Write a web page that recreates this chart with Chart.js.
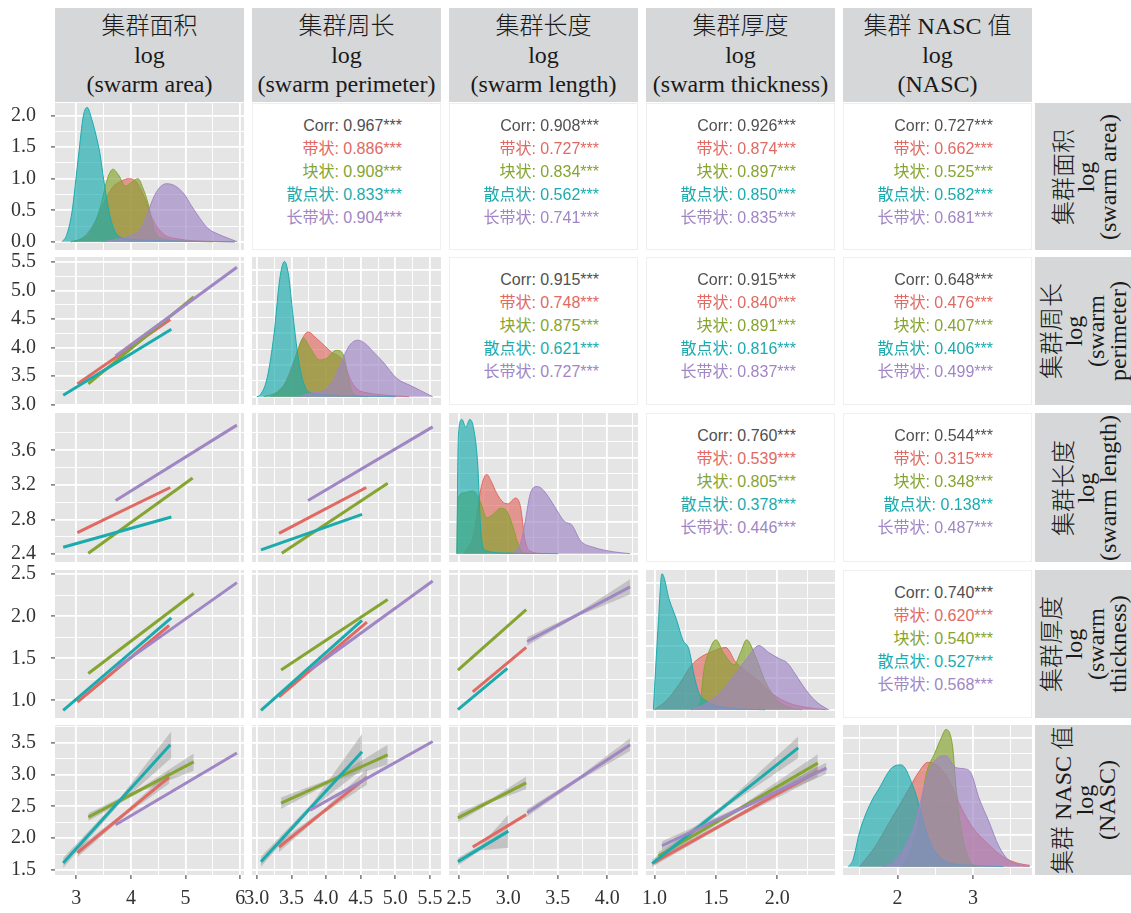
<!DOCTYPE html>
<html>
<head>
<meta charset="utf-8">
<title>swarm pairs</title>
<script src="https://cdn.jsdelivr.net/npm/chart.js@4.4.1/dist/chart.umd.min.js"></script>
<style>
  body { margin: 0; width: 1131px; height: 913px; overflow: hidden; position: relative; background: #fff; }
  canvas { position: absolute; }
  .strip { position: absolute; background: #D6D7D9; color: #1a1a1a; font-family: "Liberation Serif", "Noto Sans CJK SC", serif; font-weight: 300; font-size: 24px; line-height: 29px; text-align: center; display: flex; flex-direction: column; justify-content: center; }
  .rstrip { position: absolute; background: #D6D7D9; overflow: hidden; }
  .rstrip .rot { position: absolute; color: #1a1a1a; font-family: "Liberation Serif", "Noto Sans CJK SC", serif; font-weight: 300; font-size: 24px; line-height: 22px; text-align: center; display: flex; flex-direction: column; justify-content: center; transform: rotate(-90deg); white-space: nowrap; }
  .cor { position: absolute; background: #fff; border: 1px solid #efefef; box-sizing: border-box; font-family: "Liberation Sans", "Noto Sans CJK SC", sans-serif; font-size: 16px; }
  .cor div { position: absolute; right: 38px; line-height: 18px; white-space: nowrap; }
</style>
</head>
<body>
<script>
// ....... labels .............
const groups = ["带状", "块状", "散点状", "长带状"];
const colHeaders = [["集群面积", "log", "(swarm area)"], ["集群周长", "log", "(swarm perimeter)"], ["集群长度", "log", "(swarm length)"], ["集群厚度", "log", "(swarm thickness)"], ["集群 NASC 值", "log", "(NASC)"]];
const rowHeaders = [["集群面积", "log", "(swarm area)"], ["集群周长", "log", "(swarm", "perimeter)"], ["集群长度", "log", "(swarm length)"], ["集群厚度", "log", "(swarm", "thickness)"], ["集群 NASC 值", "log", "(NASC)"]];

// ....... axis ticks .............
const xMajor = [[3, 4, 5, 6], [3, 3.5, 4, 4.5, 5, 5.5], [2.5, 3, 3.5, 4], [1, 1.5, 2], [2, 3]];
const xMinor = [[3.5, 4.5, 5.5], [3.25, 3.75, 4.25, 4.75, 5.25], [2.75, 3.25, 3.75, 4.25], [1.25, 1.75, 2.25], [1.5, 2.5, 3.5]];
const xLabels = [["3", "4", "5", "6"], ["3.0", "3.5", "4.0", "4.5", "5.0", "5.5"], ["2.5", "3.0", "3.5", "4.0"], ["1.0", "1.5", "2.0"], ["2", "3"]];
const xRange = [[2.61, 6.07], [2.93, 5.66], [2.40, 4.31], [0.93, 2.47], [1.28, 3.78]];
const yMajor = [[0, 0.5, 1, 1.5, 2], [3, 3.5, 4, 4.5, 5, 5.5], [2.4, 2.8, 3.2, 3.6], [1, 1.5, 2, 2.5], [1.5, 2, 2.5, 3, 3.5]];
const yMinor = [[0.25, 0.75, 1.25, 1.75], [3.25, 3.75, 4.25, 4.75, 5.25], [2.6, 3.0, 3.4, 3.8], [1.25, 1.75, 2.25], [1.75, 2.25, 2.75, 3.25, 3.75]];
const yLabels = [["0.0", "0.5", "1.0", "1.5", "2.0"], ["3.0", "3.5", "4.0", "4.5", "5.0", "5.5"], ["2.4", "2.8", "3.2", "3.6"], ["1.0", "1.5", "2.0", "2.5"], ["1.5", "2.0", "2.5", "3.0", "3.5"]];
const yRange = [[-0.13, 2.2], [2.99, 5.59], [2.31, 4.03], [0.79, 2.55], [1.42, 3.78]];

// ....... densities (diagonal), order: 带状, 块状, 散点状, 长带状 .............
const densArea = [
  [[2.9,0],[3.1,0.05],[3.3,0.25],[3.5,0.6],[3.65,0.85],[3.8,0.95],[3.95,1.0],[4.1,0.95],[4.25,0.7],[4.4,0.35],[4.6,0.12],[4.9,0.04],[5.3,0.01],[5.9,0]],
  [[2.9,0],[3.1,0.05],[3.26,0.15],[3.44,0.55],[3.57,1.0],[3.67,1.15],[3.78,1.05],[3.9,0.88],[4.02,0.95],[4.13,1.0],[4.22,0.85],[4.31,0.62],[4.43,0.18],[4.6,0.05],[5.0,0.01],[5.5,0]],
  [[2.74,0],[2.82,0.1],[2.92,0.47],[3.04,1.36],[3.13,2.0],[3.2,2.13],[3.28,1.95],[3.39,1.58],[3.44,1.36],[3.5,0.99],[3.63,0.36],[3.76,0.1],[4.0,0.04],[4.5,0.02],[5.0,0.01],[5.9,0]],
  [[3.5,0],[3.8,0.05],[4.0,0.1],[4.19,0.22],[4.31,0.47],[4.43,0.73],[4.55,0.88],[4.65,0.92],[4.8,0.89],[4.98,0.75],[5.1,0.58],[5.2,0.45],[5.4,0.22],[5.6,0.12],[5.8,0.05],[5.95,0]]
];
const densPerim = [
  [[3.2,0],[3.4,0.2],[3.55,0.6],[3.65,0.9],[3.74,1.02],[3.85,0.93],[3.98,0.8],[4.08,0.7],[4.18,0.64],[4.26,0.55],[4.34,0.3],[4.45,0.12],[4.6,0.06],[4.8,0.03],[5.2,0]],
  [[3.1,0],[3.3,0.08],[3.48,0.33],[3.6,0.76],[3.67,0.92],[3.78,0.75],[3.9,0.58],[4.0,0.6],[4.15,0.73],[4.25,0.66],[4.32,0.3],[4.4,0.04],[4.6,0]],
  [[3.0,0],[3.05,0.03],[3.15,0.3],[3.25,1.0],[3.33,1.85],[3.4,2.13],[3.46,1.9],[3.52,1.3],[3.6,0.6],[3.68,0.2],[3.78,0.06],[4.0,0.03],[4.5,0.01],[5.0,0]],
  [[3.6,0],[3.8,0.06],[4.0,0.12],[4.1,0.25],[4.2,0.49],[4.34,0.81],[4.46,0.89],[4.56,0.84],[4.68,0.71],[4.82,0.55],[5.02,0.29],[5.21,0.18],[5.36,0.1],[5.54,0]]
];
const densLength = [
  [[2.55,0],[2.65,0.3],[2.72,1.0],[2.78,1.24],[2.83,1.12],[2.88,0.95],[2.95,0.8],[3.0,0.78],[3.07,0.87],[3.12,0.75],[3.17,0.2],[3.22,0.04],[3.35,0]],
  [[2.48,0],[2.49,0.85],[2.55,0.95],[2.64,0.98],[2.72,0.8],[2.78,0.56],[2.85,0.62],[2.92,0.71],[2.99,0.65],[3.05,0.4],[3.09,0.19],[3.14,0.03],[3.2,0]],
  [[2.48,0],[2.49,1.5],[2.5,1.95],[2.53,2.1],[2.57,1.98],[2.61,2.1],[2.65,1.95],[2.69,1.4],[2.72,0.4],[2.76,0.05],[3.0,0.01],[3.5,0]],
  [[3.05,0],[3.12,0.15],[3.17,0.5],[3.22,0.93],[3.29,1.05],[3.35,1.0],[3.45,0.78],[3.57,0.5],[3.64,0.45],[3.73,0.2],[3.86,0.1],[4.06,0.03],[4.23,0]]
];
const densThick = [
  [[1.0,0],[1.1,0.15],[1.2,0.4],[1.3,0.7],[1.37,0.82],[1.45,0.9],[1.58,0.98],[1.66,0.75],[1.75,0.6],[1.85,0.45],[1.96,0.25],[2.1,0.1],[2.3,0.02],[2.4,0]],
  [[1.3,0],[1.37,0.1],[1.4,0.6],[1.45,0.95],[1.5,1.1],[1.56,0.9],[1.65,0.71],[1.7,0.9],[1.75,1.1],[1.82,0.85],[1.9,0.45],[2.0,0.15],[2.1,0.03],[2.2,0]],
  [[0.99,0],[1.0,0.35],[1.03,1.35],[1.06,2.14],[1.12,1.73],[1.18,1.41],[1.23,1.1],[1.28,0.95],[1.32,0.56],[1.36,0.27],[1.42,0.14],[1.6,0.03],[1.9,0]],
  [[1.3,0],[1.42,0.1],[1.55,0.3],[1.65,0.55],[1.75,0.8],[1.85,1.01],[1.93,0.9],[2.02,0.8],[2.08,0.74],[2.15,0.55],[2.23,0.32],[2.31,0.14],[2.39,0.03],[2.42,0]]
];
const densNasc = [
  [[1.5,0],[1.7,0.3],[1.9,0.7],[2.1,1.1],[2.3,1.5],[2.4,1.62],[2.55,1.55],[2.7,1.3],[2.85,0.9],[3.0,0.6],[3.2,0.35],[3.4,0.15],[3.6,0.05],[3.75,0.02]],
  [[2.05,0],[2.12,0.1],[2.29,0.75],[2.38,1.43],[2.49,1.75],[2.58,2.0],[2.64,2.13],[2.73,1.86],[2.77,1.3],[2.84,0.6],[2.95,0.1],[3.05,0]],
  [[1.35,0],[1.41,0.1],[1.5,0.54],[1.63,0.95],[1.76,1.22],[1.93,1.54],[2.05,1.58],[2.2,1.27],[2.31,0.86],[2.38,0.54],[2.51,0.22],[2.68,0.06],[3.0,0.02],[3.4,0]],
  [[1.8,0],[1.93,0.05],[2.2,0.55],[2.42,1.49],[2.55,1.7],[2.64,1.72],[2.77,1.54],[2.88,1.52],[2.97,1.46],[3.08,1.06],[3.21,0.7],[3.34,0.32],[3.47,0.1],[3.65,0.02],[3.75,0]]
];

// ....... fitted lines [x1, x2, y1, y2] per group .............
const fitPerimArea = [[3.02,4.72,3.36,4.49],[3.22,5.15,3.36,4.89],[2.76,4.74,3.16,4.32],[3.72,5.94,3.85,5.41]];
const fitLengthArea = [[3.02,4.72,2.65,3.17],[3.22,5.13,2.41,3.28],[2.76,4.74,2.48,2.83],[3.72,5.94,3.02,3.89]];
const fitThickArea = [[3.02,4.70,0.98,1.89],[3.22,5.15,1.32,2.27],[2.76,4.74,0.88,1.98],[3.72,5.94,1.38,2.40]];
const fitNascArea = [[3.02,4.70,1.77,2.96],[3.22,5.15,2.33,3.20],[2.76,4.72,1.61,3.47],[3.72,5.94,2.21,3.34]];
const fitLengthPerim = [[3.32,4.58,2.64,3.17],[3.36,4.89,2.41,3.22],[3.06,4.52,2.45,2.86],[3.74,5.54,3.02,3.87]];
const fitThickPerim = [[3.32,4.59,1.04,1.93],[3.35,4.89,1.36,2.20],[3.06,4.52,0.88,1.95],[3.77,5.54,1.36,2.42]];
const fitNascPerim = [[3.32,4.59,1.86,2.96],[3.35,4.89,2.55,3.31],[3.06,4.52,1.63,3.36],[3.77,5.54,2.44,3.52]];
const fitThickLength = [[2.64,3.18,1.10,1.63],[2.49,3.18,1.36,2.08],[2.49,2.99,0.89,1.38],[3.19,4.23,1.70,2.35]];
const fitNascLength = [[2.64,3.18,1.86,2.37],[2.49,3.18,2.32,2.87],[2.49,3.0,1.63,2.11],[3.19,4.23,2.40,3.47]];
const fitNascThick = [[1.0,2.33,1.62,3.05],[1.03,2.33,1.72,3.18],[0.98,2.17,1.60,3.42],[1.06,2.40,1.88,3.10]];

// ....... confidence bands [group, x, lower, upper] .............
const bandNascArea = [[2, [2.76,3.8,4.74], [1.53,2.55,3.26], [1.69,2.63,3.68]], [1, [3.22,4.2,5.15], [2.27,2.74,3.06], [2.39,2.80,3.33]], [0, [3.02,3.9,4.70], [1.70,2.36,2.86], [1.84,2.42,3.06]]];
const bandNascPerim = [[2, [3.06,3.8,4.52], [1.55,2.47,3.08], [1.71,2.55,3.64]], [1, [3.35,4.1,4.89], [2.46,2.89,3.16], [2.64,2.95,3.47]], [0, [3.32,3.95,4.59], [1.78,2.38,2.84], [1.94,2.44,3.08]]];
const bandThickLength = [[3, [3.19,3.7,4.23], [1.65,2.0,2.26], [1.75,2.04,2.44]]];
const bandNascLength = [[2, [2.49,2.72,3.0], [1.57,1.81,1.85], [1.69,1.89,2.37]], [1, [2.49,2.85,3.18], [2.25,2.58,2.77], [2.39,2.64,2.97]], [3, [3.19,3.7,4.23], [2.34,2.89,3.37], [2.46,2.95,3.57]]];
const bandNascThick = [[2, [0.98,1.6,2.17], [1.54,2.51,3.26], [1.66,2.59,3.6]], [1, [1.03,1.7,2.33], [1.66,2.44,3.04], [1.78,2.50,3.32]], [3, [1.06,1.75,2.40], [1.81,2.48,3.01], [1.95,2.54,3.19]], [0, [1.0,1.65,2.33], [1.57,2.29,2.96], [1.67,2.35,3.14]]];

// ....... correlations: overall, then per group .............
const corAreaPerim = ["0.967***", "0.886***", "0.908***", "0.833***", "0.904***"];
const corAreaLength = ["0.908***", "0.727***", "0.834***", "0.562***", "0.741***"];
const corAreaThick = ["0.926***", "0.874***", "0.897***", "0.850***", "0.835***"];
const corAreaNasc = ["0.727***", "0.662***", "0.525***", "0.582***", "0.681***"];
const corPerimLength = ["0.915***", "0.748***", "0.875***", "0.621***", "0.727***"];
const corPerimThick = ["0.915***", "0.840***", "0.891***", "0.816***", "0.837***"];
const corPerimNasc = ["0.648***", "0.476***", "0.407***", "0.406***", "0.499***"];
const corLengthThick = ["0.760***", "0.539***", "0.805***", "0.378***", "0.446***"];
const corLengthNasc = ["0.544***", "0.315***", "0.348***", "0.138**", "0.487***"];
const corThickNasc = ["0.740***", "0.620***", "0.540***", "0.527***", "0.568***"];

// ....... layout / style .............
const groupColors = ["#E06A63", "#86A430", "#1BABAE", "#A086C4"];
const panelLeft = [55, 252, 449, 646, 843];
const panelTop = [103, 257, 413, 570, 725];
const panelH = [147, 148, 149, 148, 150];
const panelW = 189;
const pad = 16;

function rgba(hex, a) {
    const n = parseInt(hex.slice(1), 16);
    return `rgba(${(n >> 16) & 255},${(n >> 8) & 255},${n & 255},${a})`;
}

const panelBg = {
    id: "panelBg",
    beforeDraw(chart) {
        const a = chart.chartArea;
        const ctx = chart.ctx;
        ctx.save();
        ctx.fillStyle = "#E5E5E5";
        ctx.fillRect(a.left, a.top, a.right - a.left, a.bottom - a.top);
        ctx.restore();
    }
};

function makeScale(axis, range, major, minor, labels, show) {
    return {
        type: "linear",
        min: range[0],
        max: range[1],
        border: { display: false },
        afterBuildTicks: (s) => { s.ticks = major.concat(minor).map((v) => ({ value: v })); },
        afterFit: (s) => {
            if (axis === "x") s.height = show ? 40 : 0;
            else s.width = show ? 55 : 0;
            s.paddingLeft = 0; s.paddingRight = 0; s.paddingTop = 0; s.paddingBottom = 0;
        },
        grid: {
            color: "#ffffff",
            lineWidth: (c) => (c.index < major.length ? 1.8 : 0.9),
            drawTicks: show,
            tickLength: 4,
            tickWidth: 1.2,
            tickColor: (c) => (c.index < major.length ? "#555555" : "rgba(0,0,0,0)")
        },
        ticks: {
            display: show,
            autoSkip: false,
            maxRotation: 0,
            minRotation: 0,
            padding: axis === "x" ? 8 : 15,
            color: "#333333",
            font: { family: "Liberation Serif", size: 20 },
            callback: (v, i) => (i < major.length ? labels[i] : "")
        }
    };
}

function addPanel(r, c, datasets) {
    const isDiag = r === c;
    const showY = c === 0;
    const showX = r === 4;
    const padL = showY ? 0 : pad;
    const axL = showY ? 55 : 0;
    const axB = showX ? 40 : 0;
    const yi = isDiag ? 0 : r;
    const canvas = document.createElement("canvas");
    canvas.width = padL + axL + panelW + pad;
    canvas.height = pad + panelH[r] + axB + pad;
    canvas.style.left = (panelLeft[c] - axL - padL) + "px";
    canvas.style.top = (panelTop[r] - pad) + "px";
    document.body.appendChild(canvas);
    new Chart(canvas, {
        type: "line",
        data: { datasets: datasets },
        options: {
            responsive: false,
            animation: false,
            layout: { padding: { left: padL, right: pad, top: pad, bottom: pad } },
            plugins: { legend: { display: false }, tooltip: { enabled: false } },
            elements: { point: { radius: 0 } },
            scales: {
                x: makeScale("x", xRange[c], xMajor[c], xMinor[c], xLabels[c], showX),
                y: makeScale("y", yRange[yi], yMajor[yi], yMinor[yi], yLabels[yi], showY)
            }
        },
        plugins: [panelBg]
    });
}

// ....... diagonal density sets .............
function densitySets(dens) {
    return dens.map((pts, g) => ({
        data: pts.map((p) => ({ x: p[0], y: p[1] })),
        borderColor: groupColors[g],
        borderWidth: 1,
        backgroundColor: rgba(groupColors[g], 0.66),
        fill: "origin",
        cubicInterpolationMode: "monotone",
        pointRadius: 0,
        order: 10 - g
    }));
}

// ....... lower panels: lines + grey bands .............
function fitSets(fits, bands) {
    const sets = [];
    (bands || []).forEach((b) => {
        sets.push({ data: b[1].map((x, i) => ({ x: x, y: b[2][i] })), borderWidth: 0, borderColor: "rgba(0,0,0,0)", pointRadius: 0, fill: false, order: 30 });
        sets.push({ data: b[1].map((x, i) => ({ x: x, y: b[3][i] })), borderWidth: 0, borderColor: "rgba(0,0,0,0)", pointRadius: 0, fill: "-1", backgroundColor: "rgba(150,150,150,0.45)", order: 30 });
    });
    fits.forEach((f, g) => {
        sets.push({ data: [{ x: f[0], y: f[2] }, { x: f[1], y: f[3] }], borderColor: groupColors[g], borderWidth: 3, pointRadius: 0, fill: false, order: 10 - g });
    });
    return sets;
}

// ....... upper panels: correlation text .............
function addCorr(r, c, vals) {
    const box = document.createElement("div");
    box.className = "cor";
    box.style.left = panelLeft[c] + "px";
    box.style.top = panelTop[r] + "px";
    box.style.width = panelW + "px";
    box.style.height = panelH[r] + "px";
    const lines = [["Corr: " + vals[0], "#505050"]];
    groups.forEach((g, i) => lines.push([g + ": " + vals[i + 1], groupColors[i]]));
    lines.forEach((t, i) => {
        const d = document.createElement("div");
        d.textContent = t[0];
        d.style.color = t[1];
        d.style.top = (13 + 23 * i) + "px";
        box.appendChild(d);
    });
    document.body.appendChild(box);
}

// ....... strips .............
colHeaders.forEach((lines, c) => {
    const s = document.createElement("div");
    s.className = "strip";
    s.style.left = panelLeft[c] + "px";
    s.style.top = "8px";
    s.style.width = panelW + "px";
    s.style.height = "94px";
    s.innerHTML = lines.map((t) => `<div>${t}</div>`).join("");
    document.body.appendChild(s);
});
rowHeaders.forEach((lines, r) => {
    const s = document.createElement("div");
    s.className = "rstrip";
    s.style.left = "1035px";
    s.style.top = panelTop[r] + "px";
    s.style.width = "100px";
    s.style.height = panelH[r] + "px";
    const rot = document.createElement("div");
    rot.className = "rot";
    rot.style.width = panelH[r] + "px";
    rot.style.height = "100px";
    rot.style.left = ((100 - panelH[r]) / 2) + "px";
    rot.style.top = ((panelH[r] - 100) / 2) + "px";
    rot.innerHTML = lines.map((t) => `<div>${t}</div>`).join("");
    s.appendChild(rot);
    document.body.appendChild(s);
});

// ....... panels .............
addPanel(0, 0, densitySets(densArea));
addPanel(1, 1, densitySets(densPerim));
addPanel(2, 2, densitySets(densLength));
addPanel(3, 3, densitySets(densThick));
addPanel(4, 4, densitySets(densNasc));

addPanel(1, 0, fitSets(fitPerimArea));
addPanel(2, 0, fitSets(fitLengthArea));
addPanel(3, 0, fitSets(fitThickArea));
addPanel(4, 0, fitSets(fitNascArea, bandNascArea));
addPanel(2, 1, fitSets(fitLengthPerim));
addPanel(3, 1, fitSets(fitThickPerim));
addPanel(4, 1, fitSets(fitNascPerim, bandNascPerim));
addPanel(3, 2, fitSets(fitThickLength, bandThickLength));
addPanel(4, 2, fitSets(fitNascLength, bandNascLength));
addPanel(4, 3, fitSets(fitNascThick, bandNascThick));

addCorr(0, 1, corAreaPerim);
addCorr(0, 2, corAreaLength);
addCorr(0, 3, corAreaThick);
addCorr(0, 4, corAreaNasc);
addCorr(1, 2, corPerimLength);
addCorr(1, 3, corPerimThick);
addCorr(1, 4, corPerimNasc);
addCorr(2, 3, corLengthThick);
addCorr(2, 4, corLengthNasc);
addCorr(3, 4, corThickNasc);
</script>
</body>
</html>
